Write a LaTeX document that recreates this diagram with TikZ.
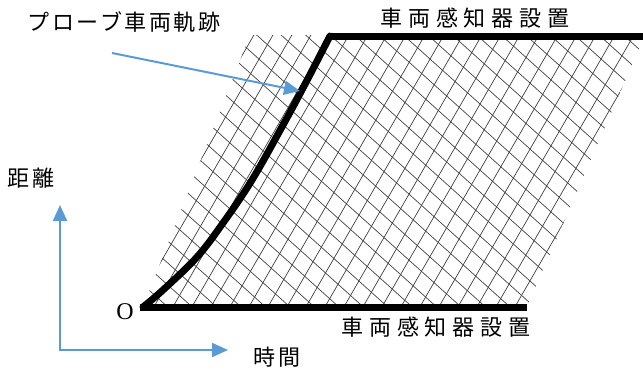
\documentclass[tikz,border=0pt]{standalone}
\usepackage{fontspec}
\setmainfont{Liberation Serif}
\newfontfamily\jpA[LetterSpace=27]{Noto Sans CJK JP}
\newfontfamily\jpB[LetterSpace=12]{Noto Sans CJK JP}
\usetikzlibrary{arrows.meta}
\definecolor{axisblue}{RGB}{91,155,213}
\tikzset{
  thick line/.style={line width=7pt,line cap=butt,line join=miter},
  blue arrow/.style={draw=axisblue,line width=2pt,-{Triangle[length=16pt,width=14pt]}},
  hatch/.style={draw=black!75,line width=0.7pt},
  lbl/.style={inner sep=0pt,font=\fontsize{22pt}{24pt}\selectfont}
}
\begin{document}
\begin{tikzpicture}[x=1pt,y=1pt]
\useasboundingbox (0,0) rectangle (643,376);
% hatching
\begin{scope}
  \clip (143,69) -- (527,69) -- (645,341) -- (250,341) -- cycle;
  \foreach \i in {-20,...,40}{
    \draw[hatch] ({\i*19},0) -- ({\i*19+231},400);
  }
  \foreach \i in {0,...,60}{
    \draw[hatch] (0,{\i*22}) -- (700,{\i*22-630});
  }
\end{scope}
% coordinates
\coordinate (O) at (143,69);
\coordinate (B) at (527,69);
\coordinate (T) at (330,340);
\coordinate (TR) at (643,340);
\coordinate (ax) at (60,26);
\coordinate (ay) at (60,171);
\coordinate (axx) at (228,26);
\coordinate (pstart) at (112,323);
\coordinate (ptip) at (300,285);
% thick lines
\draw[thick line] ([xshift=-3pt]O) -- (B);
\draw[thick line] (T) -- (TR);
\draw[thick line,line cap=round] plot[smooth,tension=0.6] coordinates
  {(143,69) (163,86) (197,119) (223,153) (252,196) (283,251) (303,288) (330,340)};
% blue arrows
\draw[blue arrow] (ax) -- (ay);
\draw[blue arrow] ([xshift=-1pt]ax) -- (axx);
\draw[blue arrow] (pstart) -- (ptip);
% labels
\node[lbl,font=\fontsize{24pt}{26pt}\selectfont] (o) at (125,64) {O};
\node[lbl] (top) at (475,358) {\jpA 車両感知器設置};
\node[lbl] (bot) at (436,49) {\jpA 車両感知器設置};
\node[lbl] (probe) at (124,354) {\jpB プローブ車両軌跡};
\node[lbl] (dist) at (31,198) {\jpB 距離};
\node[lbl] (time) at (277,19) {\jpB 時間};
\end{tikzpicture}
\end{document}
